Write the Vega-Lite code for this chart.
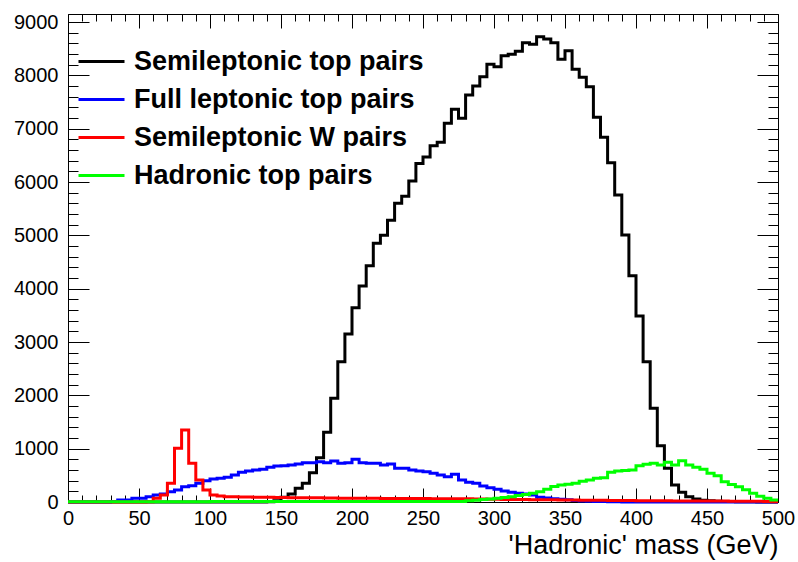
{
  "$schema": "https://vega.github.io/schema/vega-lite/v6.json",
  "width": 710,
  "height": 488,
  "autosize": {"type": "none"},
  "padding": {"left": 68, "top": 14, "right": 20, "bottom": 60},
  "background": "white",
  "config": {
    "view": {"stroke": "#000000", "strokeWidth": 1},
    "font": "Liberation Sans",
    "axis": {"domain": false, "grid": false, "tickColor": "#000000", "tickWidth": 1, "labelColor": "#000000", "labelFont": "Liberation Sans", "labelFontSize": 20, "titleFont": "Liberation Sans", "titleColor": "#000000", "labelOverlap": false, "labelFlush": false}
  },
  "datasets": {
    "h": [
      {"m":0,"semi":0,"full":0,"semiW":0,"had":3},
      {"m":5,"semi":0,"full":0,"semiW":0,"had":3},
      {"m":10,"semi":0,"full":0,"semiW":0,"had":3},
      {"m":15,"semi":0,"full":0,"semiW":0,"had":3},
      {"m":20,"semi":0,"full":0,"semiW":0,"had":3},
      {"m":25,"semi":0,"full":0,"semiW":0,"had":3},
      {"m":30,"semi":0,"full":10,"semiW":0,"had":3},
      {"m":35,"semi":0,"full":37,"semiW":0,"had":3},
      {"m":40,"semi":0,"full":37,"semiW":0,"had":3},
      {"m":45,"semi":0,"full":69,"semiW":0,"had":3},
      {"m":50,"semi":0,"full":69,"semiW":0,"had":3},
      {"m":55,"semi":0,"full":100,"semiW":5,"had":3},
      {"m":60,"semi":0,"full":131,"semiW":69,"had":3},
      {"m":65,"semi":0,"full":150,"semiW":131,"had":3},
      {"m":70,"semi":0,"full":194,"semiW":350,"had":3},
      {"m":75,"semi":0,"full":225,"semiW":1006,"had":3},
      {"m":80,"semi":0,"full":287,"semiW":1350,"had":3},
      {"m":85,"semi":0,"full":306,"semiW":725,"had":3},
      {"m":90,"semi":0,"full":350,"semiW":412,"had":3},
      {"m":95,"semi":0,"full":400,"semiW":225,"had":3},
      {"m":100,"semi":0,"full":430,"semiW":131,"had":10},
      {"m":105,"semi":0,"full":445,"semiW":112,"had":10},
      {"m":110,"semi":0,"full":462,"semiW":100,"had":10},
      {"m":115,"semi":0,"full":506,"semiW":100,"had":10},
      {"m":120,"semi":0,"full":556,"semiW":95,"had":10},
      {"m":125,"semi":0,"full":581,"semiW":95,"had":10},
      {"m":130,"semi":0,"full":600,"semiW":90,"had":10},
      {"m":135,"semi":0,"full":612,"semiW":90,"had":10},
      {"m":140,"semi":5,"full":650,"semiW":88,"had":10},
      {"m":145,"semi":25,"full":675,"semiW":85,"had":10},
      {"m":150,"semi":90,"full":681,"semiW":85,"had":10},
      {"m":155,"semi":150,"full":694,"semiW":82,"had":10},
      {"m":160,"semi":256,"full":712,"semiW":80,"had":10},
      {"m":165,"semi":350,"full":737,"semiW":80,"had":10},
      {"m":170,"semi":550,"full":737,"semiW":78,"had":10},
      {"m":175,"semi":831,"full":756,"semiW":78,"had":10},
      {"m":180,"semi":1306,"full":737,"semiW":75,"had":10},
      {"m":185,"semi":1944,"full":769,"semiW":75,"had":10},
      {"m":190,"semi":2631,"full":725,"semiW":72,"had":10},
      {"m":195,"semi":3150,"full":737,"semiW":72,"had":10},
      {"m":200,"semi":3644,"full":800,"semiW":70,"had":10},
      {"m":205,"semi":4050,"full":737,"semiW":70,"had":10},
      {"m":210,"semi":4431,"full":725,"semiW":68,"had":10},
      {"m":215,"semi":4850,"full":725,"semiW":68,"had":10},
      {"m":220,"semi":5000,"full":694,"semiW":67,"had":10},
      {"m":225,"semi":5285,"full":712,"semiW":67,"had":10},
      {"m":230,"semi":5600,"full":631,"semiW":66,"had":10},
      {"m":235,"semi":5735,"full":631,"semiW":66,"had":10},
      {"m":240,"semi":6020,"full":600,"semiW":65,"had":10},
      {"m":245,"semi":6345,"full":581,"semiW":65,"had":10},
      {"m":250,"semi":6470,"full":569,"semiW":65,"had":10},
      {"m":255,"semi":6678,"full":537,"semiW":63,"had":10},
      {"m":260,"semi":6745,"full":506,"semiW":63,"had":10},
      {"m":265,"semi":7100,"full":475,"semiW":62,"had":10},
      {"m":270,"semi":7363,"full":519,"semiW":62,"had":10},
      {"m":275,"semi":7194,"full":412,"semiW":61,"had":10},
      {"m":280,"semi":7631,"full":369,"semiW":60,"had":25},
      {"m":285,"semi":7800,"full":350,"semiW":58,"had":35},
      {"m":290,"semi":7975,"full":300,"semiW":55,"had":45},
      {"m":295,"semi":8206,"full":269,"semiW":52,"had":55},
      {"m":300,"semi":8163,"full":237,"semiW":50,"had":70},
      {"m":305,"semi":8369,"full":206,"semiW":48,"had":85},
      {"m":310,"semi":8394,"full":181,"semiW":47,"had":100},
      {"m":315,"semi":8450,"full":162,"semiW":45,"had":120},
      {"m":320,"semi":8612,"full":150,"semiW":45,"had":140},
      {"m":325,"semi":8581,"full":131,"semiW":43,"had":165},
      {"m":330,"semi":8725,"full":90,"semiW":42,"had":194},
      {"m":335,"semi":8681,"full":75,"semiW":41,"had":240},
      {"m":340,"semi":8612,"full":60,"semiW":40,"had":290},
      {"m":345,"semi":8300,"full":50,"semiW":38,"had":319},
      {"m":350,"semi":8462,"full":40,"semiW":37,"had":335},
      {"m":355,"semi":8112,"full":30,"semiW":36,"had":350},
      {"m":360,"semi":7962,"full":20,"semiW":35,"had":390},
      {"m":365,"semi":7787,"full":15,"semiW":33,"had":412},
      {"m":370,"semi":7212,"full":10,"semiW":32,"had":445},
      {"m":375,"semi":6837,"full":8,"semiW":31,"had":456},
      {"m":380,"semi":6362,"full":5,"semiW":30,"had":556},
      {"m":385,"semi":5756,"full":3,"semiW":29,"had":581},
      {"m":390,"semi":5006,"full":2,"semiW":28,"had":590},
      {"m":395,"semi":4243,"full":2,"semiW":27,"had":600},
      {"m":400,"semi":3487,"full":1,"semiW":25,"had":681},
      {"m":405,"semi":2631,"full":1,"semiW":24,"had":706},
      {"m":410,"semi":1756,"full":0,"semiW":23,"had":725},
      {"m":415,"semi":1056,"full":0,"semiW":22,"had":694},
      {"m":420,"semi":631,"full":0,"semiW":22,"had":744},
      {"m":425,"semi":319,"full":0,"semiW":21,"had":694},
      {"m":430,"semi":181,"full":0,"semiW":21,"had":775},
      {"m":435,"semi":100,"full":0,"semiW":20,"had":694},
      {"m":440,"semi":56,"full":0,"semiW":20,"had":650},
      {"m":445,"semi":35,"full":0,"semiW":19,"had":612},
      {"m":450,"semi":22,"full":0,"semiW":18,"had":537},
      {"m":455,"semi":15,"full":0,"semiW":18,"had":494},
      {"m":460,"semi":10,"full":0,"semiW":17,"had":381},
      {"m":465,"semi":8,"full":0,"semiW":16,"had":330},
      {"m":470,"semi":5,"full":0,"semiW":16,"had":287},
      {"m":475,"semi":4,"full":0,"semiW":15,"had":230},
      {"m":480,"semi":3,"full":0,"semiW":15,"had":162},
      {"m":485,"semi":2,"full":0,"semiW":12,"had":110},
      {"m":490,"semi":1,"full":0,"semiW":8,"had":69},
      {"m":495,"semi":1,"full":0,"semiW":4,"had":37},
      {"m":500,"semi":1,"full":0,"semiW":4,"had":37}
    ]
  },
  "data": {"name": "h"},
  "transform": [{"fold": ["semi", "full", "semiW", "had"], "as": ["series", "count"]}],
  "layer": [
    {
      "mark": {"type": "line", "interpolate": "step-after", "strokeWidth": 3},
      "encoding": {
        "x": {
          "field": "m", "type": "quantitative",
          "scale": {"domain": [0, 500], "nice": false, "zero": false},
          "axis": {"orient": "bottom", "values": [0, 50, 100, 150, 200, 250, 300, 350, 400, 450, 500], "format": "d", "tickSize": -14, "labelPadding": 20, "title": "'Hadronic' mass (GeV)", "titleFontSize": 27, "titleFontWeight": "normal", "titleAnchor": "end", "titlePadding": 4}
        },
        "y": {
          "field": "count", "type": "quantitative",
          "scale": {"domain": [0, 9150], "nice": false},
          "axis": {"orient": "left", "values": [0, 1000, 2000, 3000, 4000, 5000, 6000, 7000, 8000, 9000], "format": "d", "tickSize": -21, "labelPadding": 31, "title": null}
        },
        "color": {
          "field": "series", "type": "nominal",
          "scale": {"domain": ["semi", "full", "semiW", "had"], "range": ["#000000", "#0000ff", "#ff0000", "#00ff00"]},
          "legend": {
            "title": null, "orient": "none", "legendX": 9, "legendY": 23, "padding": 0,
            "symbolType": "stroke", "symbolSize": 2116, "symbolStrokeWidth": 3,
            "labelFont": "Liberation Sans", "labelFontSize": 27, "labelFontWeight": "bold", "labelColor": "#000000",
            "labelOffset": 8, "rowPadding": -0.3, "labelLimit": 400,
            "labelExpr": "datum.label == 'semi' ? 'Semileptonic top pairs' : datum.label == 'full' ? 'Full leptonic top pairs' : datum.label == 'semiW' ? 'Semileptonic W pairs' : 'Hadronic top pairs'"
          }
        }
      }
    },
    {
      "mark": {"type": "line", "interpolate": "step-after", "opacity": 0},
      "encoding": {
        "x": {"field": "m", "type": "quantitative", "axis": {"orient": "bottom", "values": [0,10,20,30,40,50,60,70,80,90,100,110,120,130,140,150,160,170,180,190,200,210,220,230,240,250,260,270,280,290,300,310,320,330,340,350,360,370,380,390,400,410,420,430,440,450,460,470,480,490,500], "tickSize": -7, "labels": false, "title": null}},
        "y": {"field": "count", "type": "quantitative", "axis": {"orient": "left", "values": [0,200,400,600,800,1000,1200,1400,1600,1800,2000,2200,2400,2600,2800,3000,3200,3400,3600,3800,4000,4200,4400,4600,4800,5000,5200,5400,5600,5800,6000,6200,6400,6600,6800,7000,7200,7400,7600,7800,8000,8200,8400,8600,8800,9000], "tickSize": -10, "labels": false, "title": null}},
        "detail": {"field": "series"}
      }
    },
    {
      "mark": {"type": "line", "interpolate": "step-after", "opacity": 0},
      "encoding": {
        "x": {"field": "m", "type": "quantitative", "axis": {"orient": "top", "values": [0, 50, 100, 150, 200, 250, 300, 350, 400, 450, 500], "tickSize": -14, "labels": false, "title": null}},
        "y": {"field": "count", "type": "quantitative", "axis": {"orient": "right", "values": [0, 1000, 2000, 3000, 4000, 5000, 6000, 7000, 8000, 9000], "tickSize": -21, "labels": false, "title": null}},
        "detail": {"field": "series"}
      }
    },
    {
      "mark": {"type": "line", "interpolate": "step-after", "opacity": 0},
      "encoding": {
        "x": {"field": "m", "type": "quantitative", "axis": {"orient": "top", "values": [0,10,20,30,40,50,60,70,80,90,100,110,120,130,140,150,160,170,180,190,200,210,220,230,240,250,260,270,280,290,300,310,320,330,340,350,360,370,380,390,400,410,420,430,440,450,460,470,480,490,500], "tickSize": -7, "labels": false, "title": null}},
        "y": {"field": "count", "type": "quantitative", "axis": {"orient": "right", "values": [0,200,400,600,800,1000,1200,1400,1600,1800,2000,2200,2400,2600,2800,3000,3200,3400,3600,3800,4000,4200,4400,4600,4800,5000,5200,5400,5600,5800,6000,6200,6400,6600,6800,7000,7200,7400,7600,7800,8000,8200,8400,8600,8800,9000], "tickSize": -10, "labels": false, "title": null}},
        "detail": {"field": "series"}
      }
    }
  ],
  "resolve": {"axis": {"x": "independent", "y": "independent"}}
}
